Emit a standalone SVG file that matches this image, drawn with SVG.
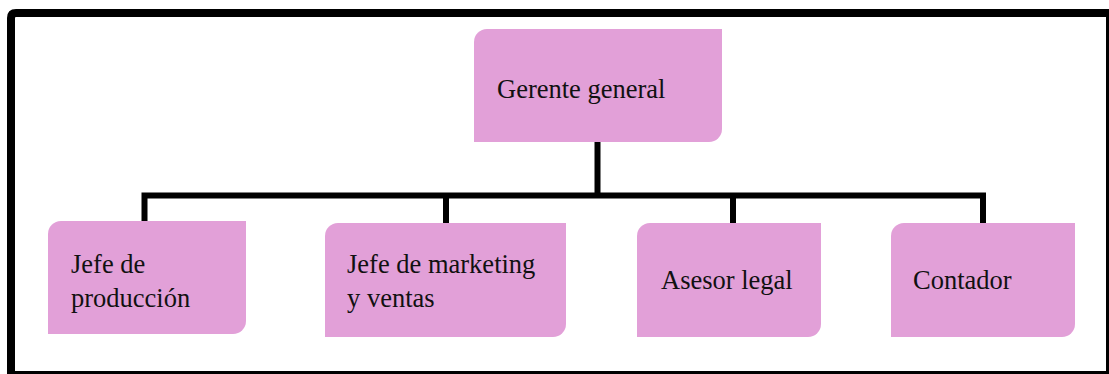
<svg xmlns="http://www.w3.org/2000/svg" width="1109" height="374" viewBox="0 0 1109 374">
<style>
.node{fill:#E2A0D8;stroke:none}
.lbl{font-family:"Liberation Serif","Times New Roman",serif;font-size:26.5px;fill:#111}
.conn{fill:none;stroke:#000;stroke-width:6;stroke-linejoin:miter;stroke-linecap:butt}
.frame{fill:none;stroke:#000}
</style>
<rect x="0" y="0" width="1109" height="374" fill="#fff"/>
<g id="frame">
<path class="frame" stroke-width="8" d="M11,374 V18 Q11,13 16,13 H1109"/>
<path class="frame" stroke-width="3" d="M1107.5,13 V374"/>
<path class="frame" stroke-width="3" d="M11,372.5 H1109"/>
</g>
<g id="connectors">
<path class="conn" d="M597.5,142 V195.5"/>
<path class="conn" d="M144.5,222 V195.5 H983 V223"/>
<path class="conn" d="M446,195.5 V223"/>
<path class="conn" d="M733,195.5 V223"/>
</g>
<g id="gerente">
<path class="node" d="M487,29 H722 V129 A13,13 0 0 1 709,142 H474 V42 A13,13 0 0 1 487,29 Z"/>
<text class="lbl" x="497" y="98">Gerente general</text>
</g>
<g id="produccion">
<path class="node" d="M61,221 H246 V321 A13,13 0 0 1 233,334 H48 V234 A13,13 0 0 1 61,221 Z"/>
<text class="lbl" x="71" y="273">Jefe de</text>
<text class="lbl" x="71" y="307">producción</text>
</g>
<g id="marketing">
<path class="node" d="M338,223 H566 V324 A13,13 0 0 1 553,337 H325 V236 A13,13 0 0 1 338,223 Z"/>
<text class="lbl" x="347" y="273">Jefe de marketing</text>
<text class="lbl" x="347" y="307">y ventas</text>
</g>
<g id="asesor">
<path class="node" d="M650,223 H821 V324 A13,13 0 0 1 808,337 H637 V236 A13,13 0 0 1 650,223 Z"/>
<text class="lbl" x="661" y="289">Asesor legal</text>
</g>
<g id="contador">
<path class="node" d="M904,223 H1075 V324 A13,13 0 0 1 1062,337 H891 V236 A13,13 0 0 1 904,223 Z"/>
<text class="lbl" x="913" y="289">Contador</text>
</g>
</svg>
